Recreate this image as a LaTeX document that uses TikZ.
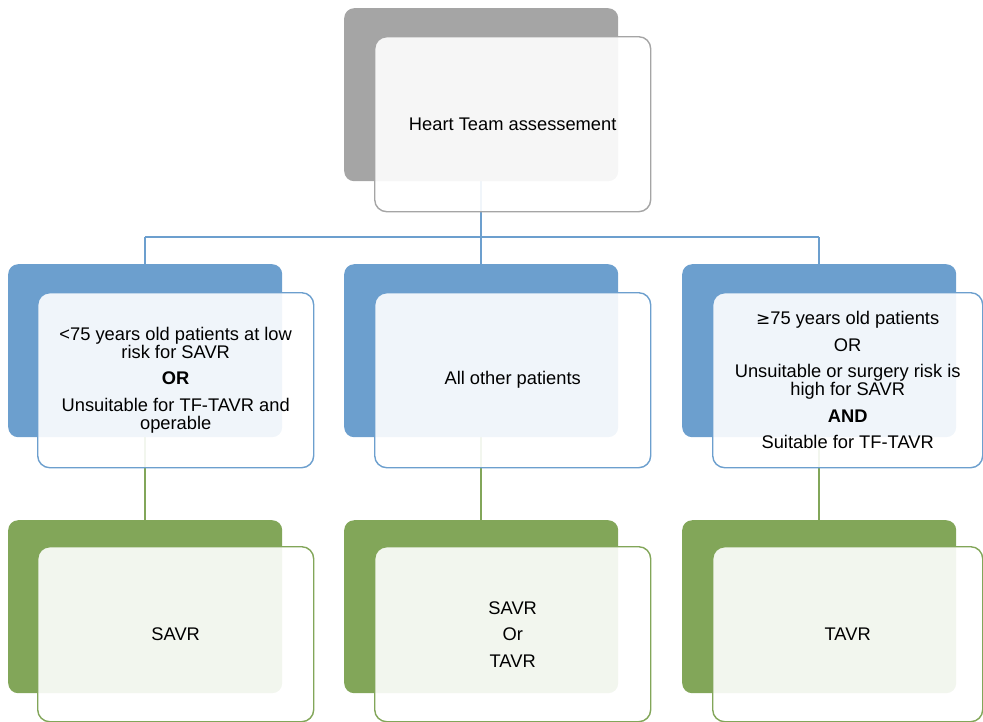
\documentclass[tikz,border=0pt]{standalone}
\usepackage{fontspec}
\setmainfont{Liberation Sans}
\usetikzlibrary{backgrounds}
\definecolor{cgray}{HTML}{A5A5A5}
\definecolor{cblue}{HTML}{6C9FCE}
\definecolor{cgreen}{HTML}{82A659}
\begin{document}
\begin{tikzpicture}[x=1pt,y=-1pt,
  backbox/.style={rounded corners=10pt, draw=none, fill=#1, inner sep=0pt,
    minimum width=274pt, minimum height=173pt, anchor=north west},
  frontbox/.style={rounded corners=12pt, draw=#1, line width=1.4pt, fill=white,
    fill opacity=0.9, text opacity=1, inner sep=0pt, minimum width=276pt,
    minimum height=175pt, anchor=north west, align=center,
    font=\fontsize{18.3}{18}\selectfont},
  conn/.style={line width=2pt, draw=#1}]
\useasboundingbox (0,0) rectangle (983,721);
% top
\node[backbox=cgray] (tb) at (344,8) {};
\node[frontbox=cgray] (tf) at (374,36) {Heart Team assessement};
% middle row
\node[backbox=cblue] (mb1) at (8,264) {};
\node[frontbox=cblue] (mf1) at (37,292) {{<}75 years old patients at low\\risk for SAVR\\[8.5pt]\textbf{OR}\\[8.5pt]Unsuitable for TF-TAVR and\\operable};
\node[backbox=cblue] (mb2) at (344,264) {};
\node[frontbox=cblue] (mf2) at (374,292) {All other patients};
\node[backbox=cblue] (mb3) at (682,264) {};
\node[frontbox=cblue, minimum width=270pt] (mf3) at (712,292) {\fontspec{DejaVu Sans}\fontsize{17}{18}\selectfont≥\fontspec{Liberation Sans}\fontsize{18.3}{18}\selectfont75 years old patients\\[8.5pt]OR\\[8.5pt]Unsuitable or surgery risk is\\high for SAVR\\[8.5pt]\textbf{AND}\\[8.5pt]Suitable for TF-TAVR};
% bottom row
\node[backbox=cgreen] (bb1) at (8,520) {};
\node[frontbox=cgreen] (bf1) at (37,546) {SAVR};
\node[backbox=cgreen] (bb2) at (344,520) {};
\node[frontbox=cgreen] (bf2) at (374,546) {SAVR\\[8.5pt]Or\\[8.5pt]TAVR};
\node[backbox=cgreen] (bb3) at (682,520) {};
\node[frontbox=cgreen, minimum width=270pt] (bf3) at (712,546) {TAVR};
\coordinate (j) at (482,237);
\begin{scope}[on background layer]
  \draw[conn=cblue] (tb.south) -- (tb.south |- j);
  \draw[conn=cblue] (mb1.north |- j) -- (mb3.north |- j);
  \draw[conn=cblue] (mb1.north |- j) -- (mb1.north);
  \draw[conn=cblue] (mb2.north |- j) -- (mb2.north);
  \draw[conn=cblue] (mb3.north |- j) -- (mb3.north);
  \draw[conn=cgreen] (mb1.south) -- (bb1.north);
  \draw[conn=cgreen] (mb2.south) -- (bb2.north);
  \draw[conn=cgreen] (mb3.south) -- (bb3.north);
\end{scope}
\end{tikzpicture}
\end{document}
